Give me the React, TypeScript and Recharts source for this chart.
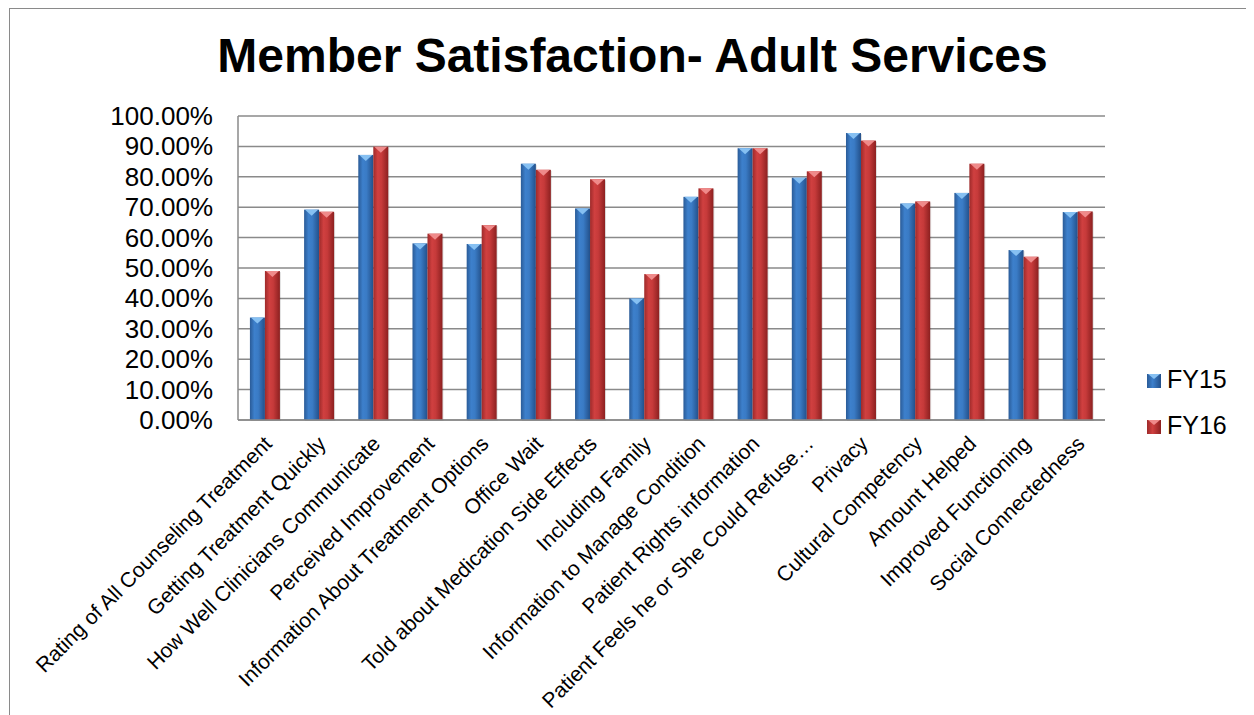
import React from 'react';
import { BarChart, Bar, XAxis, YAxis, CartesianGrid, Legend } from 'recharts';

const categories = [
  'Rating of All Counseling Treatment',
  'Getting Treatment Quickly',
  'How Well Clinicians Communicate',
  'Perceived Improvement',
  'Information About Treatment Options',
  'Office Wait',
  'Told about Medication Side Effects',
  'Including Family',
  'Information to Manage Condition',
  'Patient Rights information',
  'Patient Feels he or She Could Refuse…',
  'Privacy',
  'Cultural Competency',
  'Amount Helped',
  'Improved Functioning',
  'Social Connectedness',
];

const fy15 = [0.337, 0.692, 0.872, 0.581, 0.579, 0.843, 0.696, 0.4, 0.734, 0.894, 0.797, 0.944, 0.712, 0.747, 0.559, 0.684];
const fy16 = [0.49, 0.685, 0.899, 0.613, 0.641, 0.823, 0.792, 0.48, 0.762, 0.894, 0.818, 0.919, 0.719, 0.843, 0.537, 0.686];

const yTicks = [0, 0.1, 0.2, 0.3, 0.4, 0.5, 0.6, 0.7, 0.8, 0.9, 1.0];
const seriesNames = ['FY15', 'FY16'];

const data = categories.map((c, i) => ({ name: c, FY15: fy15[i], FY16: fy16[i] }));

const FONT = '"Liberation Sans", Arial, sans-serif';

const COLORS: Record<string, { grad: string; tip: string }> = {
  FY15: { grad: 'url(#gBlue)', tip: '#86c0f2' },
  FY16: { grad: 'url(#gRed)', tip: '#ef8a8a' },
};

const makeShape = (key: string) => (props: any) => {
  const { x, y, width, height } = props;
  if (!height || height <= 0) return null;
  const c = COLORS[key];
  const tipH = Math.min(6, height);
  return (
    <g>
      <rect x={x + 1} y={y + 1} width={width} height={height} fill="rgba(0,0,0,0.12)" />
      <rect x={x} y={y} width={width} height={height} fill={c.grad} />
      <polygon
        points={`${x + 1},${y} ${x + width - 1},${y} ${x + width / 2},${y + tipH}`}
        fill={c.tip}
      />
    </g>
  );
};

const XTick = (props: any) => {
  const { x, y, payload } = props;
  return (
    <text
      transform={`translate(${x + 8},${y + 25}) rotate(-45)`}
      textAnchor="end"
      fontSize={21}
      fontFamily={FONT}
      fill="#000"
    >
      {payload.value}
    </text>
  );
};

const YTick = (props: any) => {
  const { x, y, payload } = props;
  return (
    <text
      x={x - 25}
      y={y}
      textAnchor="end"
      dominantBaseline="central"
      fontSize={26}
      fontFamily={FONT}
      fill="#000"
    >
      {(payload.value * 100).toFixed(2) + '%'}
    </text>
  );
};

const LegendMarker = ({ grad, tip }: { grad: string; tip: string }) => (
  <svg width={16} height={16} style={{ position: 'absolute', left: 0, top: 0 }}>
    <defs>
      <linearGradient id={`lg${tip.slice(1)}`} x1="0" y1="0" x2="1" y2="0">
        {grad === 'url(#gBlue)' ? (
          <>
            <stop offset="0%" stopColor="#2a5b97" />
            <stop offset="40%" stopColor="#3d80cc" />
            <stop offset="100%" stopColor="#23508a" />
          </>
        ) : (
          <>
            <stop offset="0%" stopColor="#9e2a2a" />
            <stop offset="40%" stopColor="#d04040" />
            <stop offset="100%" stopColor="#8c2020" />
          </>
        )}
      </linearGradient>
    </defs>
    <rect x={0} y={0} width={14} height={14} fill={`url(#lg${tip.slice(1)})`} />
    <polygon points="1,0 13,0 7,5" fill={tip} />
  </svg>
);

const renderLegend = () => (
  <div style={{ position: 'relative', width: 110, height: 100, fontFamily: FONT }}>
    {seriesNames.map((n, i) => (
      <div key={n}>
        <div style={{ position: 'absolute', left: 0, top: 16 + i * 46, width: 16, height: 16 }}>
          <LegendMarker grad={COLORS[n].grad} tip={COLORS[n].tip} />
        </div>
        <span
          style={{
            position: 'absolute',
            left: 20,
            top: 9 + i * 46,
            fontSize: 25,
            lineHeight: '25px',
            color: '#000',
            whiteSpace: 'nowrap',
          }}
        >
          {n}
        </span>
      </div>
    ))}
  </div>
);

export default function App() {
  return (
    <div style={{ position: 'relative', width: 1245, height: 707, marginLeft: 1, background: '#fff' }}>
      <div
        style={{
          position: 'absolute',
          left: 0,
          top: 24,
          width: 1247,
          textAlign: 'center',
          fontFamily: FONT,
          fontWeight: 'bold',
          fontSize: 48,
          lineHeight: '48px',
          color: '#000',
          zIndex: 2,
        }}
      >
        Member Satisfaction- Adult Services
      </div>
      <BarChart
        width={1245}
        height={707}
        data={data}
        margin={{ top: 108, right: 149, left: 0, bottom: 5 }}
        barCategoryGap="22%"
        barGap={0}
      >
        <defs>
          <linearGradient id="gBlue" x1="0" y1="0" x2="1" y2="0">
            <stop offset="0%" stopColor="#2a5b97" />
            <stop offset="30%" stopColor="#3d80cc" />
            <stop offset="55%" stopColor="#3a7bc5" />
            <stop offset="100%" stopColor="#23508a" />
          </linearGradient>
          <linearGradient id="gRed" x1="0" y1="0" x2="1" y2="0">
            <stop offset="0%" stopColor="#9e2a2a" />
            <stop offset="30%" stopColor="#d04040" />
            <stop offset="55%" stopColor="#c63a3a" />
            <stop offset="100%" stopColor="#8c2020" />
          </linearGradient>
        </defs>
        <CartesianGrid vertical={false} stroke="#8a8a8a" strokeWidth={1.5} />
        <XAxis
          dataKey="name"
          interval={0}
          height={290}
          tickSize={0}
          tickMargin={0}
          tickLine={false}
          tick={<XTick />}
          axisLine={{ stroke: '#8a8a8a', strokeWidth: 1.5 }}
        />
        <YAxis
          domain={[0, 1]}
          ticks={yTicks}
          width={229}
          tickSize={0}
          tickMargin={0}
          tickLine={false}
          tick={<YTick />}
          axisLine={{ stroke: '#8a8a8a', strokeWidth: 1.5 }}
          interval={0}
        />
        <Legend
          layout="vertical"
          align="center"
          verticalAlign="middle"
          content={renderLegend}
          wrapperStyle={{ left: 1138, top: 350, width: 110, height: 100 }}
        />
        <Bar dataKey="FY15" isAnimationActive={false} shape={makeShape('FY15')} />
        <Bar dataKey="FY16" isAnimationActive={false} shape={makeShape('FY16')} />
      </BarChart>
      <div
        style={{
          position: 'absolute',
          left: 0,
          top: 0,
          width: 1245,
          height: 707,
          borderTop: '1px solid #8a8a8a',
          borderLeft: '1px solid #8a8a8a',
          boxSizing: 'border-box',
          pointerEvents: 'none',
        }}
      />
    </div>
  );
}
